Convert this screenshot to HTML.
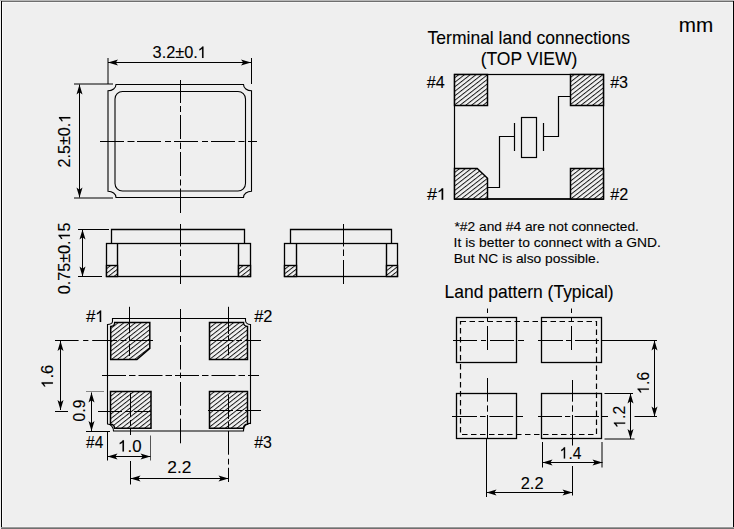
<!DOCTYPE html>
<html><head><meta charset="utf-8"><style>
html,body{margin:0;padding:0;background:#efefef;}
#c{position:relative;width:734px;height:529px;overflow:hidden;background:#efefef;}
svg{position:absolute;left:0;top:0;}
text{font-family:"Liberation Sans",sans-serif;fill:#000;stroke:#000;stroke-width:0.1px;}
</style></head><body><div id="c">
<svg width="734" height="529" viewBox="0 0 734 529">
<defs><pattern id="hatch" patternUnits="userSpaceOnUse" width="10" height="3.55" patternTransform="rotate(-38)"><rect width="10" height="3.55" fill="#f2f2f2"/><line x1="0" y1="0.5" x2="10" y2="0.5" stroke="#111" stroke-width="0.95"/></pattern></defs>
<rect x="0" y="0" width="734" height="1" fill="#b8b8b8"/>
<rect x="1" y="1" width="732" height="1" fill="#6e6e6e"/>
<rect x="2" y="2" width="730" height="1" fill="#f7f7f7"/>
<rect x="2" y="2" width="1" height="525" fill="#fafafa"/>
<rect x="1" y="1" width="1" height="527" fill="#000"/>
<rect x="732" y="2" width="1" height="525" fill="#f3f3f3"/>
<rect x="2" y="526" width="730" height="1" fill="#f3f3f3"/>
<rect x="733" y="1" width="1" height="527" fill="#000"/>
<rect x="1" y="527" width="733" height="1" fill="#9a9a9a"/>
<rect x="1" y="528" width="733" height="1" fill="#707070"/>
<path d="M116,84.5 H243.5 A8,6.3 0 0 0 251.5,90.8 V191.2 A8,6.3 0 0 0 243.5,197.5 H116 A8,6.3 0 0 0 108,191.2 V90.8 A8,6.3 0 0 0 116,84.5 Z" fill="none" stroke="#000" stroke-width="1.1"/>
<rect x="115" y="91.5" width="130.5" height="99.5" rx="7.5" ry="7.5" fill="none" stroke="#000" stroke-width="1.1"/>
<line x1="100" y1="141.5" x2="124" y2="141.5" stroke="#000" stroke-width="1"/>
<line x1="127.5" y1="141.5" x2="134.5" y2="141.5" stroke="#000" stroke-width="1"/>
<line x1="137" y1="141.5" x2="161" y2="141.5" stroke="#000" stroke-width="1"/>
<line x1="165" y1="141.5" x2="171" y2="141.5" stroke="#000" stroke-width="1"/>
<line x1="174" y1="141.5" x2="198" y2="141.5" stroke="#000" stroke-width="1"/>
<line x1="202" y1="141.5" x2="208" y2="141.5" stroke="#000" stroke-width="1"/>
<line x1="211" y1="141.5" x2="235" y2="141.5" stroke="#000" stroke-width="1"/>
<line x1="238.5" y1="141.5" x2="244.5" y2="141.5" stroke="#000" stroke-width="1"/>
<line x1="248" y1="141.5" x2="257" y2="141.5" stroke="#000" stroke-width="1"/>
<line x1="180.5" y1="80" x2="180.5" y2="103" stroke="#000" stroke-width="1"/>
<line x1="180.5" y1="106" x2="180.5" y2="112" stroke="#000" stroke-width="1"/>
<line x1="180.5" y1="115" x2="180.5" y2="139" stroke="#000" stroke-width="1"/>
<line x1="180.5" y1="142.5" x2="180.5" y2="149" stroke="#000" stroke-width="1"/>
<line x1="180.5" y1="152" x2="180.5" y2="176" stroke="#000" stroke-width="1"/>
<line x1="180.5" y1="179.5" x2="180.5" y2="185.5" stroke="#000" stroke-width="1"/>
<line x1="180.5" y1="188.5" x2="180.5" y2="213" stroke="#000" stroke-width="1"/>
<line x1="108" y1="58" x2="108" y2="84" stroke="#000" stroke-width="1"/>
<line x1="251.5" y1="58" x2="251.5" y2="84" stroke="#000" stroke-width="1"/>
<line x1="108" y1="62.5" x2="251" y2="62.5" stroke="#000" stroke-width="1"/>
<polygon points="108.00,62.50 118.00,59.50 115.80,62.50 118.00,65.50" fill="#000"/>
<polygon points="251.00,62.50 241.00,59.50 243.20,62.50 241.00,65.50" fill="#000"/>
<line x1="74" y1="84" x2="113" y2="84" stroke="#000" stroke-width="1"/>
<line x1="74" y1="198" x2="113" y2="198" stroke="#000" stroke-width="1"/>
<line x1="79.5" y1="84.5" x2="79.5" y2="197.5" stroke="#000" stroke-width="1"/>
<polygon points="79.50,84.50 76.50,94.50 79.50,92.30 82.50,94.50" fill="#000"/>
<polygon points="79.50,197.50 76.50,187.50 79.50,189.70 82.50,187.50" fill="#000"/>
<polyline points="111.5,243.5 111.5,229.5 244.5,229.5 244.5,243.5" fill="none" stroke="#000" stroke-width="1.3"/>
<rect x="106.5" y="243.5" width="144.0" height="33" fill="none" stroke="#000" stroke-width="1.3"/>
<line x1="117.5" y1="243.5" x2="117.5" y2="276.5" stroke="#000" stroke-width="1.4"/>
<line x1="238.5" y1="243.5" x2="238.5" y2="276.5" stroke="#000" stroke-width="1.4"/>
<rect x="106.5" y="265.5" width="11.0" height="11" fill="url(#hatch)" stroke="#000" stroke-width="1.4"/>
<rect x="238.5" y="265.5" width="12.0" height="11" fill="url(#hatch)" stroke="#000" stroke-width="1.4"/>
<line x1="180.5" y1="224" x2="180.5" y2="284" stroke="#000" stroke-width="1" stroke-dasharray="22.5 3 6.5 4 30" stroke-dashoffset="0"/>
<polyline points="290.5,243.5 290.5,229.5 391.5,229.5 391.5,243.5" fill="none" stroke="#000" stroke-width="1.3"/>
<rect x="284.5" y="243.5" width="113.0" height="33" fill="none" stroke="#000" stroke-width="1.3"/>
<line x1="296.5" y1="243.5" x2="296.5" y2="276.5" stroke="#000" stroke-width="1.4"/>
<line x1="386.5" y1="243.5" x2="386.5" y2="276.5" stroke="#000" stroke-width="1.4"/>
<rect x="284.5" y="265.5" width="12.0" height="11" fill="url(#hatch)" stroke="#000" stroke-width="1.4"/>
<rect x="386.5" y="265.5" width="11.0" height="11" fill="url(#hatch)" stroke="#000" stroke-width="1.4"/>
<line x1="343.5" y1="224" x2="343.5" y2="284" stroke="#000" stroke-width="1" stroke-dasharray="22.5 3 6.5 4 30" stroke-dashoffset="0"/>
<line x1="78" y1="229.5" x2="109" y2="229.5" stroke="#000" stroke-width="1"/>
<line x1="78" y1="276.5" x2="102" y2="276.5" stroke="#000" stroke-width="1"/>
<line x1="82.5" y1="229.5" x2="82.5" y2="276.5" stroke="#000" stroke-width="1"/>
<polygon points="82.50,229.50 79.50,239.50 82.50,237.30 85.50,239.50" fill="#000"/>
<polygon points="82.50,276.50 79.50,266.50 82.50,268.70 85.50,266.50" fill="#000"/>
<path d="M112.5,318.5 H245.5 V320.5 A5,4 0 0 0 250.5,324.5 V423.5 A6,7 0 0 0 243.5,431 H113.5 A6,7 0 0 0 107.5,424 V324.5 A5,3 0 0 0 112.5,321.5 Z" fill="none" stroke="#000" stroke-width="1.1"/>
<path d="M110.7,359.5 V326.5 A4,4 0 0 0 114.7,322.5 H149.8 V348.3 L136.9,359.5 Z" fill="url(#hatch)" stroke="#000" stroke-width="1.5"/>
<path d="M209.5,322.5 H243.5 A4,4 0 0 0 247.5,326.5 V359.5 H209.5 Z" fill="url(#hatch)" stroke="#000" stroke-width="1.5"/>
<path d="M110.5,391.5 H151 V428.2 H114.5 A4,4 0 0 0 110.5,424.2 Z" fill="url(#hatch)" stroke="#000" stroke-width="1.5"/>
<path d="M209.5,391.5 H247.5 V424.2 A4,4 0 0 0 243.5,428.2 H209.5 Z" fill="url(#hatch)" stroke="#000" stroke-width="1.5"/>
<line x1="102" y1="375.5" x2="259" y2="375.5" stroke="#000" stroke-width="1" stroke-dasharray="24 3 6.5 3" stroke-dashoffset="0"/>
<line x1="180.5" y1="309" x2="180.5" y2="332" stroke="#000" stroke-width="1"/>
<line x1="180.5" y1="336" x2="180.5" y2="342" stroke="#000" stroke-width="1"/>
<line x1="180.5" y1="345" x2="180.5" y2="369.5" stroke="#000" stroke-width="1"/>
<line x1="180.5" y1="372.6" x2="180.5" y2="378" stroke="#000" stroke-width="1"/>
<line x1="180.5" y1="382" x2="180.5" y2="405.8" stroke="#000" stroke-width="1"/>
<line x1="180.5" y1="409.2" x2="180.5" y2="415.2" stroke="#000" stroke-width="1"/>
<line x1="180.5" y1="418.7" x2="180.5" y2="443.3" stroke="#000" stroke-width="1"/>
<line x1="129.5" y1="306.8" x2="129.5" y2="333.2" stroke="#000" stroke-width="1"/>
<line x1="129.5" y1="335.7" x2="129.5" y2="340.6" stroke="#000" stroke-width="1"/>
<line x1="129.5" y1="343.7" x2="129.5" y2="356" stroke="#000" stroke-width="1"/>
<line x1="228.5" y1="306.8" x2="228.5" y2="334" stroke="#000" stroke-width="1"/>
<line x1="228.5" y1="336" x2="228.5" y2="341" stroke="#000" stroke-width="1"/>
<line x1="228.5" y1="344" x2="228.5" y2="355.3" stroke="#000" stroke-width="1"/>
<line x1="130.5" y1="393" x2="130.5" y2="417" stroke="#000" stroke-width="1"/>
<line x1="130.5" y1="420" x2="130.5" y2="426" stroke="#000" stroke-width="1"/>
<line x1="130.5" y1="429" x2="130.5" y2="435" stroke="#000" stroke-width="1"/>
<line x1="228.5" y1="394.7" x2="228.5" y2="419" stroke="#000" stroke-width="1"/>
<line x1="228.5" y1="422" x2="228.5" y2="428" stroke="#000" stroke-width="1"/>
<line x1="228.5" y1="431" x2="228.5" y2="454.7" stroke="#000" stroke-width="1"/>
<line x1="228.5" y1="458.8" x2="228.5" y2="464.5" stroke="#000" stroke-width="1"/>
<line x1="228.5" y1="467.8" x2="228.5" y2="482" stroke="#000" stroke-width="1"/>
<line x1="55" y1="340.5" x2="78.6" y2="340.5" stroke="#000" stroke-width="1"/>
<line x1="83.1" y1="340.5" x2="88.4" y2="340.5" stroke="#000" stroke-width="1"/>
<line x1="92.2" y1="340.5" x2="117" y2="340.5" stroke="#000" stroke-width="1"/>
<line x1="120.5" y1="340.5" x2="126.5" y2="340.5" stroke="#000" stroke-width="1"/>
<line x1="129.5" y1="340.5" x2="153" y2="340.5" stroke="#000" stroke-width="1"/>
<line x1="209.5" y1="340.5" x2="233.4" y2="340.5" stroke="#000" stroke-width="1"/>
<line x1="236.2" y1="340.5" x2="242" y2="340.5" stroke="#000" stroke-width="1"/>
<line x1="245" y1="340.5" x2="261" y2="340.5" stroke="#000" stroke-width="1"/>
<line x1="55" y1="411.5" x2="68" y2="411.5" stroke="#000" stroke-width="1"/>
<line x1="98" y1="411.5" x2="122" y2="411.5" stroke="#000" stroke-width="1"/>
<line x1="125" y1="411.5" x2="131" y2="411.5" stroke="#000" stroke-width="1"/>
<line x1="134" y1="411.5" x2="151" y2="411.5" stroke="#000" stroke-width="1"/>
<line x1="208" y1="410.5" x2="233" y2="410.5" stroke="#000" stroke-width="1"/>
<line x1="236" y1="410.5" x2="242" y2="410.5" stroke="#000" stroke-width="1"/>
<line x1="245" y1="410.5" x2="261" y2="410.5" stroke="#000" stroke-width="1"/>
<line x1="60.5" y1="341" x2="60.5" y2="410" stroke="#000" stroke-width="1"/>
<polygon points="60.50,341.00 57.50,351.00 60.50,348.80 63.50,351.00" fill="#000"/>
<polygon points="60.50,410.00 57.50,400.00 60.50,402.20 63.50,400.00" fill="#000"/>
<line x1="86" y1="391.5" x2="104" y2="391.5" stroke="#888" stroke-width="1"/>
<line x1="86" y1="431.5" x2="110" y2="431.5" stroke="#000" stroke-width="1"/>
<line x1="91.5" y1="392.5" x2="91.5" y2="431" stroke="#000" stroke-width="1"/>
<polygon points="91.50,392.50 88.50,402.50 91.50,400.30 94.50,402.50" fill="#000"/>
<polygon points="91.50,431.00 88.50,421.00 91.50,423.20 94.50,421.00" fill="#000"/>
<line x1="107.5" y1="431" x2="107.5" y2="460.5" stroke="#000" stroke-width="1"/>
<line x1="150.5" y1="435.5" x2="150.5" y2="460.5" stroke="#555" stroke-width="1"/>
<line x1="107.5" y1="456.5" x2="150.5" y2="456.5" stroke="#000" stroke-width="1"/>
<polygon points="107.50,456.50 117.50,453.50 115.30,456.50 117.50,459.50" fill="#000"/>
<polygon points="150.50,456.50 140.50,453.50 142.70,456.50 140.50,459.50" fill="#000"/>
<line x1="130.5" y1="461" x2="130.5" y2="484.5" stroke="#000" stroke-width="1"/>
<line x1="130.5" y1="478.5" x2="228.5" y2="478.5" stroke="#000" stroke-width="1"/>
<polygon points="130.50,478.50 140.50,475.50 138.30,478.50 140.50,481.50" fill="#000"/>
<polygon points="228.50,478.50 218.50,475.50 220.70,478.50 218.50,481.50" fill="#000"/>
<rect x="454.5" y="74.5" width="149" height="124.5" fill="none" stroke="#000" stroke-width="1.2"/>
<line x1="454" y1="199" x2="604" y2="199" stroke="#000" stroke-width="1.6"/>
<polygon points="454.5,74.5 487.5,74.5 487.5,105.5 454.5,105.5" fill="url(#hatch)" stroke="#000" stroke-width="1.5"/>
<polygon points="570.5,74.5 603.5,74.5 603.5,105.5 570.5,105.5" fill="url(#hatch)" stroke="#000" stroke-width="1.5"/>
<polygon points="454.5,168.5 477.2,168.5 487.5,178.2 487.5,199 454.5,199" fill="url(#hatch)" stroke="#000" stroke-width="1.5"/>
<polygon points="570.5,168.5 603.5,168.5 603.5,199 570.5,199" fill="url(#hatch)" stroke="#000" stroke-width="1.5"/>
<rect x="521.5" y="117.5" width="15" height="40" fill="none" stroke="#000" stroke-width="1.2"/>
<line x1="514.5" y1="123" x2="514.5" y2="151" stroke="#000" stroke-width="1.2"/>
<line x1="543.5" y1="123" x2="543.5" y2="151" stroke="#000" stroke-width="1.2"/>
<polyline points="514.5,136.5 499.5,136.5 499.5,187.5 487.5,187.5" fill="none" stroke="#000" stroke-width="1.2"/>
<polyline points="543.5,136.5 558.5,136.5 558.5,96.5 570.5,96.5" fill="none" stroke="#000" stroke-width="1.2"/>
<rect x="456.5" y="317.5" width="60" height="45" fill="none" stroke="#000" stroke-width="1.3"/>
<rect x="541.5" y="317.5" width="60" height="45" fill="none" stroke="#000" stroke-width="1.3"/>
<rect x="456.5" y="393.5" width="60" height="45" fill="none" stroke="#000" stroke-width="1.3"/>
<rect x="541.5" y="393.5" width="60" height="45" fill="none" stroke="#000" stroke-width="1.3"/>
<rect x="460.5" y="321.5" width="136" height="113" fill="none" stroke="#000" stroke-width="1.2" stroke-dasharray="5.5 3.5"/>
<line x1="487.5" y1="308.5" x2="487.5" y2="313" stroke="#000" stroke-width="1"/>
<line x1="487.5" y1="317" x2="487.5" y2="321.6" stroke="#000" stroke-width="1"/>
<line x1="487.5" y1="326" x2="487.5" y2="350" stroke="#000" stroke-width="1"/>
<line x1="571.5" y1="308.5" x2="571.5" y2="313" stroke="#000" stroke-width="1"/>
<line x1="571.5" y1="317" x2="571.5" y2="321.6" stroke="#000" stroke-width="1"/>
<line x1="571.5" y1="326" x2="571.5" y2="350" stroke="#000" stroke-width="1"/>
<line x1="487.5" y1="378" x2="487.5" y2="401.7" stroke="#000" stroke-width="1"/>
<line x1="487.5" y1="405.4" x2="487.5" y2="411.7" stroke="#000" stroke-width="1"/>
<line x1="487.5" y1="415" x2="487.5" y2="438.5" stroke="#000" stroke-width="1"/>
<line x1="572.5" y1="380" x2="572.5" y2="401.7" stroke="#000" stroke-width="1"/>
<line x1="572.5" y1="405.4" x2="572.5" y2="411.7" stroke="#000" stroke-width="1"/>
<line x1="572.5" y1="415" x2="572.5" y2="445.5" stroke="#000" stroke-width="1"/>
<line x1="453" y1="340.5" x2="477" y2="340.5" stroke="#000" stroke-width="1"/>
<line x1="481" y1="340.5" x2="486" y2="340.5" stroke="#000" stroke-width="1"/>
<line x1="490" y1="340.5" x2="514" y2="340.5" stroke="#000" stroke-width="1"/>
<line x1="518" y1="340.5" x2="524" y2="340.5" stroke="#000" stroke-width="1"/>
<line x1="538" y1="340.5" x2="563" y2="340.5" stroke="#000" stroke-width="1"/>
<line x1="566" y1="340.5" x2="571" y2="340.5" stroke="#000" stroke-width="1"/>
<line x1="575" y1="340.5" x2="599" y2="340.5" stroke="#000" stroke-width="1"/>
<line x1="452" y1="416.5" x2="477" y2="416.5" stroke="#000" stroke-width="1"/>
<line x1="480" y1="416.5" x2="485.6" y2="416.5" stroke="#000" stroke-width="1"/>
<line x1="489.4" y1="416.5" x2="513.2" y2="416.5" stroke="#000" stroke-width="1"/>
<line x1="516.1" y1="416.5" x2="523" y2="416.5" stroke="#000" stroke-width="1"/>
<line x1="538" y1="416.5" x2="562" y2="416.5" stroke="#000" stroke-width="1"/>
<line x1="565" y1="416.5" x2="570.3" y2="416.5" stroke="#000" stroke-width="1"/>
<line x1="574.6" y1="416.5" x2="599" y2="416.5" stroke="#000" stroke-width="1"/>
<line x1="602" y1="416.5" x2="608" y2="416.5" stroke="#000" stroke-width="1"/>
<line x1="602" y1="340.5" x2="657" y2="340.5" stroke="#000" stroke-width="1"/>
<line x1="634.5" y1="416.5" x2="657" y2="416.5" stroke="#000" stroke-width="1"/>
<line x1="654.5" y1="340.5" x2="654.5" y2="416.5" stroke="#000" stroke-width="1"/>
<polygon points="654.50,340.50 651.50,350.50 654.50,348.30 657.50,350.50" fill="#000"/>
<polygon points="654.50,416.50 651.50,406.50 654.50,408.70 657.50,406.50" fill="#000"/>
<line x1="604.5" y1="393.5" x2="633" y2="393.5" stroke="#000" stroke-width="1"/>
<line x1="604.5" y1="439" x2="634.5" y2="439" stroke="#000" stroke-width="1"/>
<line x1="630.5" y1="393.5" x2="630.5" y2="439" stroke="#000" stroke-width="1"/>
<polygon points="630.50,393.50 627.50,403.50 630.50,401.30 633.50,403.50" fill="#000"/>
<polygon points="630.50,439.00 627.50,429.00 630.50,431.20 633.50,429.00" fill="#000"/>
<line x1="542.5" y1="442" x2="542.5" y2="467.5" stroke="#000" stroke-width="1"/>
<line x1="602" y1="442" x2="602" y2="467.5" stroke="#000" stroke-width="1"/>
<line x1="542.5" y1="462.5" x2="602.5" y2="462.5" stroke="#000" stroke-width="1"/>
<polygon points="542.50,462.50 552.50,459.50 550.30,462.50 552.50,465.50" fill="#000"/>
<polygon points="602.50,462.50 592.50,459.50 594.70,462.50 592.50,465.50" fill="#000"/>
<line x1="486.5" y1="438.5" x2="486.5" y2="497" stroke="#000" stroke-width="1"/>
<line x1="572.5" y1="466" x2="572.5" y2="495.5" stroke="#000" stroke-width="1"/>
<line x1="486.5" y1="492.5" x2="572.5" y2="492.5" stroke="#000" stroke-width="1"/>
<polygon points="486.50,492.50 496.50,489.50 494.30,492.50 496.50,495.50" fill="#000"/>
<polygon points="572.50,492.50 562.50,489.50 564.70,492.50 562.50,495.50" fill="#000"/>
<text transform="translate(152.56,57.90) scale(0.9919,1)" font-size="16.5">3.2±0.<tspan fill="transparent" stroke="none">1</tspan></text><path transform="translate(152.56,57.90) scale(0.9919,1) translate(45.754,0) scale(0.008057,-0.008057)" d="M696,0H515V1130Q400,1010 175,925V1095Q420,1200 540,1409H696Z" fill="#000" stroke="#000" stroke-width="12.4"/>
<text transform="translate(70.30,167.48) rotate(-90) scale(0.9810,1)" font-size="16.5">2.5±0.<tspan fill="transparent" stroke="none">1</tspan></text><path transform="translate(70.30,167.48) rotate(-90) scale(0.9810,1) translate(45.754,0) scale(0.008057,-0.008057)" d="M696,0H515V1130Q400,1010 175,925V1095Q420,1200 540,1409H696Z" fill="#000" stroke="#000" stroke-width="12.4"/>
<text transform="translate(69.90,294.34) rotate(-90) scale(0.9826,1)" font-size="16.5">0.75±0.<tspan fill="transparent" stroke="none">1</tspan>5</text><path transform="translate(69.90,294.34) rotate(-90) scale(0.9826,1) translate(54.930,0) scale(0.008057,-0.008057)" d="M696,0H515V1130Q400,1010 175,925V1095Q420,1200 540,1409H696Z" fill="#000" stroke="#000" stroke-width="12.4"/>
<text transform="translate(52.90,387.93) rotate(-90) scale(1.0149,1)" font-size="16.5"><tspan fill="transparent" stroke="none">1</tspan>.6</text><path transform="translate(52.90,387.93) rotate(-90) scale(1.0149,1) translate(0.000,0) scale(0.008057,-0.008057)" d="M696,0H515V1130Q400,1010 175,925V1095Q420,1200 540,1409H696Z" fill="#000" stroke="#000" stroke-width="12.4"/>
<text transform="translate(85.40,421.42) rotate(-90) scale(0.9488,1)" font-size="16.5">0.9</text>
<text transform="translate(118.26,451.60) scale(1.0196,1)" font-size="16.5"><tspan fill="transparent" stroke="none">1</tspan>.0</text><path transform="translate(118.26,451.60) scale(1.0196,1) translate(0.000,0) scale(0.008057,-0.008057)" d="M696,0H515V1130Q400,1010 175,925V1095Q420,1200 540,1409H696Z" fill="#000" stroke="#000" stroke-width="12.4"/>
<text transform="translate(167.36,472.70) scale(1.0516,1)" font-size="16.5">2.2</text>
<text transform="translate(85.95,321.90) scale(1.0316,1)" font-size="16.5">#<tspan fill="transparent" stroke="none">1</tspan></text><path transform="translate(85.95,321.90) scale(1.0316,1) translate(9.177,0) scale(0.008057,-0.008057)" d="M696,0H515V1130Q400,1010 175,925V1095Q420,1200 540,1409H696Z" fill="#000" stroke="#000" stroke-width="12.4"/>
<text transform="translate(254.25,321.90) scale(0.9943,1)" font-size="16.5">#2</text>
<text transform="translate(86.05,448.00) scale(0.9356,1)" font-size="16.5">#4</text>
<text transform="translate(254.25,447.90) scale(0.9659,1)" font-size="16.5">#3</text>
<text transform="translate(427.61,44.00) scale(0.9727,1)" font-size="18">Terminal land connections</text>
<text transform="translate(480.63,64.90) scale(0.9738,1)" font-size="18">(TOP VIEW)</text>
<text transform="translate(426.75,88.20) scale(0.9804,1)" font-size="16.5">#4</text>
<text transform="translate(610.15,88.00) scale(0.9773,1)" font-size="16.5">#3</text>
<text transform="translate(427.05,199.70) scale(1.0927,1)" font-size="16.5">#<tspan fill="transparent" stroke="none">1</tspan></text><path transform="translate(427.05,199.70) scale(1.0927,1) translate(9.177,0) scale(0.008057,-0.008057)" d="M696,0H515V1130Q400,1010 175,925V1095Q420,1200 540,1409H696Z" fill="#000" stroke="#000" stroke-width="12.4"/>
<text transform="translate(610.15,199.60) scale(0.9829,1)" font-size="16.5">#2</text>
<text transform="translate(454.49,230.70) scale(1.0605,1)" font-size="13">*#2 and #4 are not connected.</text>
<text transform="translate(453.62,246.50) scale(1.0672,1)" font-size="13">It is better to connect with a GND.</text>
<text transform="translate(453.78,263.20) scale(1.0633,1)" font-size="13">But NC is also possible.</text>
<text transform="translate(444.59,297.80) scale(0.9717,1)" font-size="18">Land pattern (Typical)</text>
<text transform="translate(648.90,393.75) rotate(-90) scale(0.9572,1)" font-size="16.5"><tspan fill="transparent" stroke="none">1</tspan>.6</text><path transform="translate(648.90,393.75) rotate(-90) scale(0.9572,1) translate(0.000,0) scale(0.008057,-0.008057)" d="M696,0H515V1130Q400,1010 175,925V1095Q420,1200 540,1409H696Z" fill="#000" stroke="#000" stroke-width="12.4"/>
<text transform="translate(625.20,427.75) rotate(-90) scale(0.9570,1)" font-size="16.5"><tspan fill="transparent" stroke="none">1</tspan>.2</text><path transform="translate(625.20,427.75) rotate(-90) scale(0.9570,1) translate(0.000,0) scale(0.008057,-0.008057)" d="M696,0H515V1130Q400,1010 175,925V1095Q420,1200 540,1409H696Z" fill="#000" stroke="#000" stroke-width="12.4"/>
<text transform="translate(559.87,458.60) scale(0.9411,1)" font-size="16.5"><tspan fill="transparent" stroke="none">1</tspan>.4</text><path transform="translate(559.87,458.60) scale(0.9411,1) translate(0.000,0) scale(0.008057,-0.008057)" d="M696,0H515V1130Q400,1010 175,925V1095Q420,1200 540,1409H696Z" fill="#000" stroke="#000" stroke-width="12.4"/>
<text transform="translate(520.70,488.50) scale(0.9953,1)" font-size="16.5">2.2</text>
<text transform="translate(678.80,31.90) scale(1.0343,1)" font-size="20">mm</text>
</svg></div></body></html>
